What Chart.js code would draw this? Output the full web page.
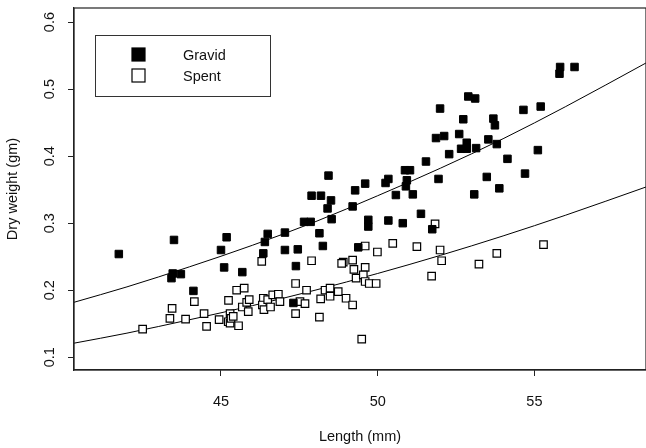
<!DOCTYPE html>
<html>
<head>
<meta charset="utf-8">
<script src="https://cdn.jsdelivr.net/npm/chart.js@4/dist/chart.umd.min.js"></script>
<style>
  body { margin: 0; background: #fff; }
  #chart { display: block; }
</style>
</head>
<body>
<canvas id="chart" width="646" height="448"></canvas>
<script>
// Gravid females (filled squares)
const gravidLength = [41.74, 43.50, 43.46, 43.42, 43.72, 44.12, 45.18, 45.00, 45.10, 45.68,
  46.49, 46.40, 46.35, 47.04, 47.04, 47.45, 47.39, 47.65, 47.86, 48.14,
  48.25, 47.31, 48.43, 49.60, 50.34, 50.25, 49.28, 47.89, 48.19, 48.51,
  48.40, 50.58, 49.20, 48.53, 49.70, 49.70, 50.34, 49.38, 55.82, 55.80,
  56.28, 52.89, 53.11, 51.99, 54.65, 55.20, 52.73, 53.69, 53.74, 51.86,
  52.12, 52.60, 52.84, 52.66, 52.84, 53.14, 53.53, 53.80, 52.28, 54.14,
  55.11, 51.54, 50.87, 51.03, 50.93, 50.90, 51.94, 53.48, 54.70, 51.12,
  53.08, 53.88, 51.38, 50.80, 51.74];
const gravidWeight = [0.254, 0.275, 0.225, 0.218, 0.224, 0.199, 0.279, 0.260, 0.234, 0.227,
  0.284, 0.272, 0.255, 0.286, 0.260, 0.261, 0.236, 0.302, 0.302, 0.285,
  0.266, 0.181, 0.371, 0.359, 0.366, 0.360, 0.349, 0.341, 0.341, 0.334,
  0.322, 0.342, 0.325, 0.306, 0.305, 0.295, 0.304, 0.264, 0.533, 0.523,
  0.533, 0.489, 0.486, 0.471, 0.469, 0.474, 0.455, 0.456, 0.446, 0.427,
  0.430, 0.433, 0.420, 0.411, 0.411, 0.412, 0.425, 0.418, 0.403, 0.396,
  0.409, 0.392, 0.379, 0.379, 0.364, 0.355, 0.366, 0.369, 0.374, 0.343,
  0.343, 0.352, 0.314, 0.300, 0.291];

// Spent females (open squares)
const spentLength = [42.50, 43.44, 43.37, 43.87, 44.15, 44.46, 44.54, 44.94, 45.24, 45.50,
  45.74, 45.29, 45.23, 45.29, 45.32, 45.39, 45.56, 45.68, 45.82, 45.87,
  45.90, 46.30, 46.35, 46.32, 46.37, 46.49, 46.58, 46.65, 46.83, 46.88,
  47.38, 47.38, 47.52, 47.68, 47.89, 47.73, 48.14, 48.18, 48.32, 48.48,
  48.48, 48.74, 48.99, 49.20, 48.90, 48.85, 49.20, 49.24, 49.60, 49.31,
  49.54, 49.60, 49.73, 49.95, 49.60, 49.99, 50.48, 49.49, 51.83, 51.25,
  51.99, 52.04, 51.72, 53.23, 53.80, 55.29];
const spentWeight = [0.142, 0.173, 0.158, 0.157, 0.183, 0.165, 0.146, 0.156, 0.185, 0.200,
  0.203, 0.165, 0.153, 0.151, 0.158, 0.161, 0.147, 0.175, 0.182, 0.168,
  0.186, 0.243, 0.188, 0.178, 0.171, 0.186, 0.175, 0.193, 0.194, 0.183,
  0.210, 0.165, 0.183, 0.180, 0.244, 0.200, 0.160, 0.187, 0.200, 0.203,
  0.191, 0.198, 0.188, 0.178, 0.242, 0.240, 0.245, 0.231, 0.234, 0.218,
  0.223, 0.213, 0.210, 0.210, 0.266, 0.257, 0.270, 0.127, 0.299, 0.265,
  0.260, 0.244, 0.221, 0.239, 0.255, 0.268];

// fitted curves
const fitLength = [40.31, 42, 44, 46, 48, 50, 52, 54, 56, 58.56];
const gravidFit = [0.182, 0.205, 0.235, 0.267, 0.302, 0.341, 0.382, 0.426, 0.474, 0.539];
const spentFit  = [0.121, 0.136, 0.156, 0.177, 0.200, 0.225, 0.252, 0.281, 0.312, 0.354];

const xTicks = [45, 50, 55];
const yTicks = [0.1, 0.2, 0.3, 0.4, 0.5, 0.6];

const zip = (xs, ys) => xs.map((x, i) => ({ x: x, y: ys[i] }));
const FONT = "'Liberation Sans', Arial, sans-serif";

// frame + legend box
const framePlugin = {
  id: "frame",
  afterDraw(chart) {
    const ctx = chart.ctx;
    const a = chart.chartArea;
    ctx.save();
    ctx.strokeStyle = "#222";
    ctx.lineWidth = 1.2;
    ctx.strokeRect(a.left, a.top, a.right - a.left, a.bottom - a.top);

    // legend
    ctx.lineWidth = 1;
    ctx.strokeStyle = "#333";
    ctx.strokeRect(95.5, 35.5, 175, 61);
    const items = chart.data.datasets.slice(0, 2);
    items.forEach((ds, i) => {
      const cy = i === 0 ? 55 : 76;
      ctx.fillStyle = ds.backgroundColor;
      ctx.strokeStyle = "#000";
      ctx.lineWidth = 1.2;
      ctx.fillRect(132, cy - 7, 13, 13);
      ctx.strokeRect(132, cy - 7, 13, 13);
      ctx.fillStyle = "#111";
      ctx.font = "14.5px " + FONT;
      ctx.textBaseline = "middle";
      ctx.textAlign = "left";
      ctx.fillText(ds.label, 183, cy + 1);
    });
    ctx.restore();
  }
};

new Chart(document.getElementById("chart"), {
  type: "scatter",
  data: {
    datasets: [
      {
        label: "Gravid",
        data: zip(gravidLength, gravidWeight),
        pointStyle: "rect",
        pointRadius: 5.3,
        backgroundColor: "#000",
        borderColor: "#000",
        borderWidth: 1
      },
      {
        label: "Spent",
        data: zip(spentLength, spentWeight),
        pointStyle: "rect",
        pointRadius: 5.3,
        backgroundColor: "#fff",
        borderColor: "#000",
        borderWidth: 1.2
      },
      {
        label: "Gravid fit",
        data: zip(fitLength, gravidFit),
        showLine: true,
        pointRadius: 0,
        borderColor: "#000",
        borderWidth: 1,
        cubicInterpolationMode: "monotone"
      },
      {
        label: "Spent fit",
        data: zip(fitLength, spentFit),
        showLine: true,
        pointRadius: 0,
        borderColor: "#000",
        borderWidth: 1,
        cubicInterpolationMode: "monotone"
      }
    ]
  },
  options: {
    responsive: false,
    animation: false,
    devicePixelRatio: 1,
    layout: { autoPadding: false, padding: { top: 8, right: 0, left: 0, bottom: 0 } },
    plugins: {
      legend: { display: false },
      tooltip: { enabled: false }
    },
    scales: {
      x: {
        type: "linear",
        min: 40.31,
        max: 58.56,
        afterBuildTicks: s => { s.ticks = xTicks.map(v => ({ value: v })); },
        afterFit: s => { s.height = 78; s.paddingLeft = 0; s.paddingRight = 0; },
        grid: { drawOnChartArea: false, drawTicks: true, tickLength: 6, tickColor: "#222" },
        border: { display: true, color: "#222", width: 1.2 },
        ticks: {
          padding: 17,
          color: "#111",
          font: { family: FONT, size: 14.5 },
          callback: v => String(v)
        },
        title: {
          display: true,
          text: "Length (mm)",
          color: "#111",
          font: { family: FONT, size: 14.5 },
          padding: { top: 0, bottom: 2 }
        }
      },
      y: {
        type: "linear",
        min: 0.081,
        max: 0.621,
        afterBuildTicks: s => { s.ticks = yTicks.map(v => ({ value: v })); },
        afterFit: s => { s.width = 74; s.paddingTop = 0; s.paddingBottom = 0; },
        grid: { drawOnChartArea: false, drawTicks: true, tickLength: 6, tickColor: "#222" },
        border: { display: true, color: "#222", width: 1.2 },
        ticks: {
          padding: 8,
          minRotation: 90,
          maxRotation: 90,
          crossAlign: "center",
          color: "#111",
          font: { family: FONT, size: 14.5 },
          callback: v => v.toFixed(1)
        },
        title: {
          display: true,
          text: "Dry weight (gm)",
          color: "#111",
          font: { family: FONT, size: 14.5 },
          padding: { top: 4, bottom: 0 }
        }
      }
    }
  },
  plugins: [framePlugin]
});
</script>
</body>
</html>
